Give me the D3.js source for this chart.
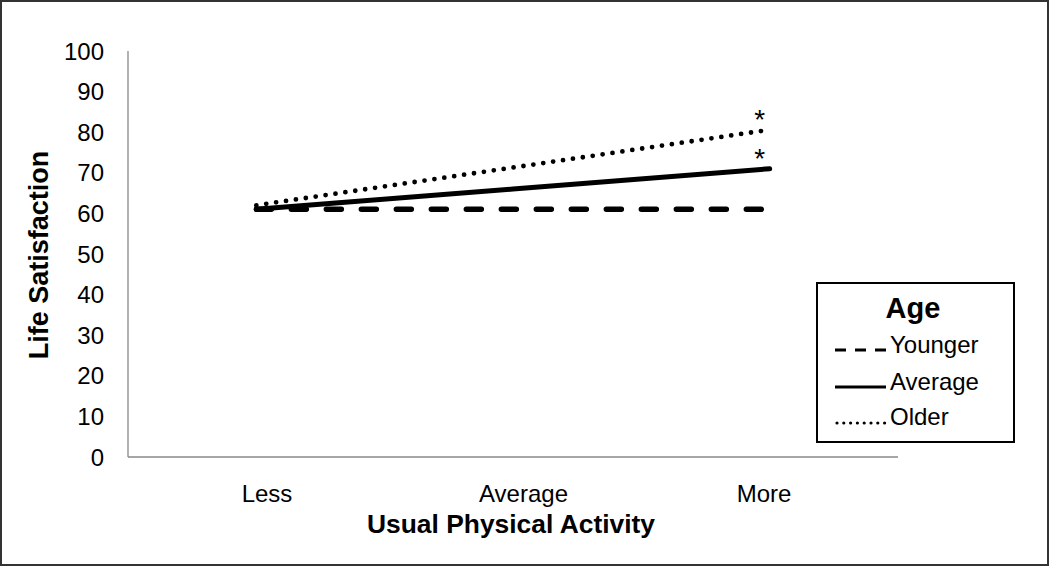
<!DOCTYPE html>
<html><head><meta charset="utf-8">
<script src="https://cdn.jsdelivr.net/npm/d3@7"></script>
<style>body{margin:0;background:#fff}svg{display:block}text{font-family:"Liberation Sans",Arial,sans-serif;fill:#000}</style>
</head><body>
<script>
const categories = ["Less", "Average", "More"];
const seriesNames = ["Younger", "Average", "Older"];
const younger = [61, 61, 61];
const average = [61, 66, 71];
const older = [62, 71.3, 80.6];
const yTicks = [0, 10, 20, 30, 40, 50, 60, 70, 80, 90, 100];

const W = 1050, H = 567;
const svg = d3.select("body").append("svg").attr("width", W).attr("height", H);
svg.append("rect").attr("x", 1).attr("y", 1).attr("width", W - 3).attr("height", H - 3)
  .attr("fill", "#fff").attr("stroke", "#333").attr("stroke-width", 2);

const x0 = 128, x1 = 898, yTop = 51, yBot = 457;
const xBand = d3.scaleBand().domain(categories).range([x0, x1]);
const x = c => xBand(c) + xBand.bandwidth() / 2;
const xLabel = d3.scalePoint().domain(categories).range([267, 764]);
const y = d3.scaleLinear().domain([0, 100]).range([yBot, yTop]);

// axes lines
svg.append("line").attr("x1", x0).attr("x2", x0).attr("y1", yTop).attr("y2", yBot).attr("stroke", "#888").attr("stroke-width", 1.3);
svg.append("line").attr("x1", x0).attr("x2", x1).attr("y1", yBot).attr("y2", yBot).attr("stroke", "#888").attr("stroke-width", 1.3);

svg.append("g").selectAll("text").data(yTicks).join("text")
  .attr("x", 104).attr("y", d => y(d)).attr("dy", "0.36em").attr("text-anchor", "end")
  .attr("font-size", 24).text(d => d);

svg.append("g").selectAll("text").data(categories).join("text")
  .attr("x", d => xLabel(d) + (d === "Average" ? 8 : 0)).attr("y", 502).attr("text-anchor", "middle")
  .attr("font-size", 24).text(d => d);

svg.append("text").attr("x", 511).attr("y", 533).attr("text-anchor", "middle")
  .attr("font-size", 26.4).attr("font-weight", "bold").text("Usual Physical Activity");
svg.append("text").attr("transform", "translate(48,255) rotate(-90)").attr("text-anchor", "middle")
  .attr("font-size", 27).attr("font-weight", "bold").text("Life Satisfaction");

const styles = {
  Younger: {dash: "15,20", width: 5.5, cap: "round"},
  Average: {dash: null, width: 5, cap: "round"},
  Older: {dash: "0,10", width: 4.8, cap: "round"}
};
const data = {Younger: younger, Average: average, Older: older};
const line = d3.line().x((d, i) => x(categories[i])).y(d => y(d));
["Younger", "Older", "Average"].forEach(s => {
  svg.append("path").datum(data[s]).attr("d", line).attr("fill", "none").attr("stroke", "#000")
    .attr("stroke-width", styles[s].width).attr("stroke-linecap", styles[s].cap)
    .attr("stroke-dasharray", styles[s].dash);
});

// significance asterisks
[older, average].forEach(arr => {
  svg.append("text").attr("x", x("More") - 10).attr("y", y(arr[2]) - 1).attr("text-anchor", "middle")
    .attr("font-size", 28).attr("fill", "#222").text("*");
});

// legend
const lg = svg.append("g");
lg.append("rect").attr("x", 817).attr("y", 283).attr("width", 197).attr("height", 159)
  .attr("fill", "#fff").attr("stroke", "#000").attr("stroke-width", 2);
lg.append("text").attr("x", 913).attr("y", 318).attr("text-anchor", "middle")
  .attr("font-size", 29).attr("font-weight", "bold").text("Age");
const legDash = {Younger: "11,9", Average: null, Older: "0,6.8"};
const legY = [350, 387, 423];
const legBase = [353, 390, 425];
seriesNames.forEach((s, i) => {
  lg.append("line").attr("x1", s === "Older" ? 837 : 835).attr("x2", 886).attr("y1", legY[i]).attr("y2", legY[i])
    .attr("stroke", "#000").attr("stroke-width", 3.2).attr("stroke-linecap", s === "Older" ? "round" : "butt")
    .attr("stroke-dasharray", legDash[s]);
  lg.append("text").attr("x", 890).attr("y", legBase[i]).attr("font-size", 24).text(s);
});
</script>
</body></html>
